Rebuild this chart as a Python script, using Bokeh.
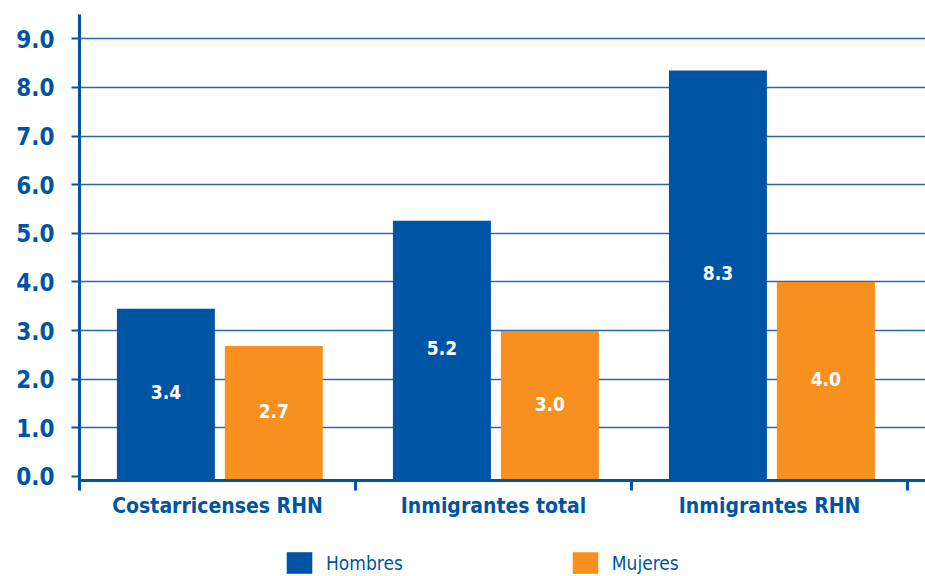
from bokeh.plotting import figure
from bokeh.models import FixedTicker, Legend, LegendItem, ColumnDataSource, PrintfTickFormatter
from bokeh.embed import file_html
from bokeh.resources import INLINE
from bokeh.core.properties import value

# ---- data ----
categories = ["Costarricenses RHN", "Inmigrantes total", "Inmigrantes RHN"]
hombres = [3.45, 5.26, 8.35]
mujeres = [2.68, 2.99, 4.0]
hombres_labels = ["3.4", "5.2", "8.3"]
mujeres_labels = ["2.7", "3.0", "4.0"]
y_ticks = [0, 1, 2, 3, 4, 5, 6, 7, 8, 9]
series_names = ["Hombres", "Mujeres"]

BLUE = "#0054a4"
ORANGE = "#f7901e"
GRID = "#2f66aa"
FONT = "'DejaVu Sans Condensed', 'Liberation Sans Narrow', sans-serif"

baseline = -0.08
p = figure(width=925, height=576, x_range=(0, 3.065), y_range=(-2.06, 9.5),
           output_backend="svg", toolbar_location=None,
           min_border_left=79, min_border_right=0, min_border_top=14, min_border_bottom=0)
p.outline_line_color = None

idx = list(range(len(categories)))
src_h = ColumnDataSource(dict(x=[i + 0.313 for i in idx], top=hombres, lab=hombres_labels,
                              ymid=[v / 2 for v in hombres]))
src_m = ColumnDataSource(dict(x=[i + 0.704 for i in idx], top=mujeres, lab=mujeres_labels,
                              ymid=[v / 2 for v in mujeres]))

rh = p.vbar(x="x", top="top", bottom=baseline, width=0.355, source=src_h,
            fill_color=BLUE, line_color=None)
rm = p.vbar(x="x", top="top", bottom=baseline, width=0.355, source=src_m,
            fill_color=ORANGE, line_color=None)

for src in (src_h, src_m):
    p.text(x="x", y="ymid", text="lab", source=src, text_align="center",
           text_baseline="middle", text_color="white", text_font=value(FONT),
           text_font_style="bold", text_font_size="19px")

# grid
p.xgrid.visible = False
p.ygrid.ticker = FixedTicker(ticks=y_ticks[1:])
p.ygrid.grid_line_color = GRID
p.ygrid.grid_line_width = 1.5

# y axis
ya = p.yaxis[0]
ya.ticker = FixedTicker(ticks=y_ticks)
ya.bounds = (-0.29, 9.5)
ya.formatter = PrintfTickFormatter(format="%.1f")
ya.axis_line_color = BLUE
ya.axis_line_width = 3
ya.major_tick_line_color = BLUE
ya.major_tick_line_width = 2
ya.major_tick_out = 8
ya.major_tick_in = 0
ya.minor_tick_line_color = None
ya.major_label_text_font = FONT
ya.major_label_text_font_style = "bold"
ya.major_label_text_font_size = "24px"
ya.major_label_text_color = BLUE
ya.major_label_standoff = 17

# x axis, drawn at the baseline inside the frame
xa = p.xaxis[0]
xa.fixed_location = baseline
centers = [i + 0.5 for i in idx]
xa.ticker = FixedTicker(ticks=centers, minor_ticks=[0, 1, 2, 3])
xa.major_label_overrides = {c: name for c, name in zip(centers, categories)}
xa.axis_line_color = BLUE
xa.axis_line_width = 3
xa.major_tick_out = 0
xa.major_tick_in = 0
xa.major_tick_line_color = None
xa.minor_tick_out = 10
xa.minor_tick_in = 0
xa.minor_tick_line_color = BLUE
xa.minor_tick_line_width = 3
xa.major_label_text_font = FONT
xa.major_label_text_font_style = "bold"
xa.major_label_text_font_size = "21px"
xa.major_label_text_color = BLUE
xa.major_label_standoff = 4

legend = Legend(items=[LegendItem(label=series_names[0], renderers=[rh]),
                       LegendItem(label=series_names[1], renderers=[rm])],
                location=(204, 0), orientation="horizontal", spacing=166,
                padding=0, margin=0, border_line_color=None, background_fill_alpha=0,
                label_text_font=FONT, label_text_font_size="19px",
                label_text_color=BLUE, label_standoff=11,
                glyph_width=32, glyph_height=27, label_height=27)
p.add_layout(legend)

open("out.html", "w").write(file_html(p, INLINE))
